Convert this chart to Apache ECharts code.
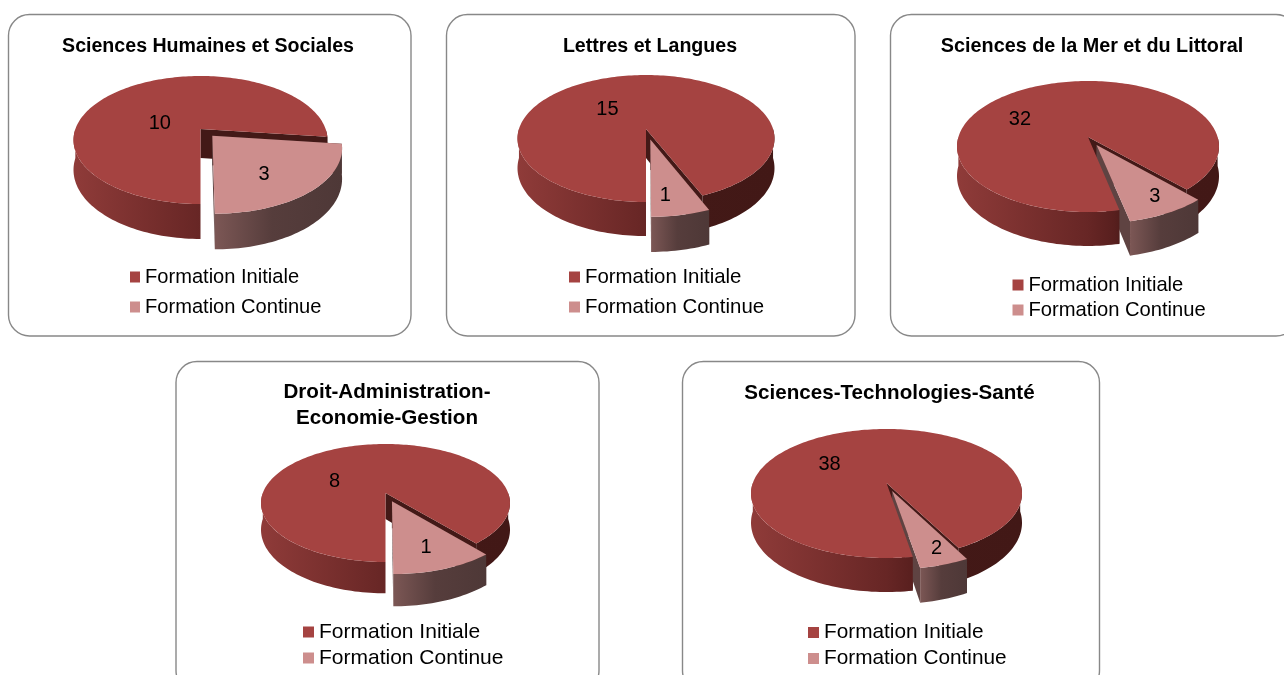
<!DOCTYPE html>
<html>
<head>
<meta charset="utf-8">
<style>html,body{margin:0;padding:0;background:#fff}#c{width:1284px;height:675px}</style>
<script src="https://cdn.jsdelivr.net/npm/echarts@6/dist/echarts.min.js"></script>
</head>
<body>
<div id="c"></div>
<script>
// ---- data ----
const categories = ['Sciences Humaines et Sociales', 'Lettres et Langues', 'Sciences de la Mer et du Littoral', 'Droit-Administration-\nEconomie-Gestion', 'Sciences-Technologies-Santé'];
const seriesNames = ['Formation Initiale', 'Formation Continue'];
const formationInitiale = [10, 15, 32, 8, 38];
const formationContinue = [3, 1, 3, 1, 2];

// ---- layout and style ----
const FONT = '"Liberation Sans", Arial, sans-serif';
const TOP_FI = '#a54341', TOP_FC = '#cd8e8d';
// pie scales: ellipse centre and radii, perspective a, thickness d, angle where the first slice starts, explosion e
const pieLayout = [
  {cx: 200.5, cy: 140, rx: 127, ry: 64, a: -0.17, d: 29, start: 180, e: 0.14},
  {cx: 646, cy: 138.5, rx: 128.5, ry: 63.5, a: -0.15, d: 29, start: 180, e: 0.17},
  {cx: 1088, cy: 146.5, rx: 131, ry: 65.5, a: -0.145, d: 29, start: 168, e: 0.14},
  {cx: 385.5, cy: 503, rx: 124.5, ry: 59, a: -0.17, d: 26, start: 180, e: 0.15},
  {cx: 886.5, cy: 493.5, rx: 135.5, ry: 64.5, a: -0.163, d: 28.5, start: 170.5, e: 0.13}
];
// value label anchors as fractions of each pie's radii: [initiale, continue]
const labelAnchors = [
  [[-0.32, -0.28], [0.50, 0.52]],
  [[-0.30, -0.465], [0.15, 0.875]],
  [[-0.52, -0.435], [0.51, 0.755]],
  [[-0.41, -0.39], [0.325, 0.73]],
  [[-0.42, -0.47], [0.37, 0.83]]
];
const panels = [
  {x: 8.5, y: 14.5, w: 402.5, h: 321.5},
  {x: 446.5, y: 14.5, w: 408.5, h: 321.5},
  {x: 890.5, y: 14.5, w: 406.5, h: 321.5},
  {x: 176, y: 361.5, w: 423, h: 330},
  {x: 682.5, y: 361.5, w: 417, h: 330}
];
const titleLayout = [
  {x: 208, y: 34, size: 19.6}, {x: 650, y: 34, size: 19.6}, {x: 1092, y: 34, size: 19.8},
  {x: 387, y: 380, size: 20.6}, {x: 889.5, y: 381, size: 20.6}
];
const legendLayout = [
  {x: 130, y: 267, gap: 10, size: 20.1, sw: 10},
  {x: 569, y: 267, gap: 10, size: 20.4, sw: 11},
  {x: 1012.5, y: 275, gap: 5, size: 20.2, sw: 11},
  {x: 303, y: 621.5, gap: 5, size: 21, sw: 11},
  {x: 808, y: 622, gap: 5, size: 20.8, sw: 11}
];

// ---- geometry: a circle seen in perspective ----
function project(p, theta, ox, oy) {
  const r = theta * Math.PI / 180;
  return projectUV(p, Math.sin(r) + ox, -Math.cos(r) + oy);
}
function projectUV(p, u, v) {
  const den = 1 + p.a * v;
  return {
    x: p.cx + p.rx * u * Math.sqrt(1 - p.a * p.a) / den,
    y: p.cy + p.ry * (v + p.a) / den,
    depth: p.d / den
  };
}
function arcPoints(p, from, to, ox, oy) {
  const n = Math.max(2, Math.ceil(Math.abs(to - from) / 1.5));
  const out = [];
  for (let i = 0; i <= n; i++) out.push(project(p, from + (to - from) * i / n, ox, oy));
  return out;
}
function wall(pts, fill) {
  const poly = pts.map(q => [q.x, q.y]).concat(pts.slice().reverse().map(q => [q.x, q.y + q.depth]));
  return {type: 'polygon', shape: {points: poly}, style: {fill: fill}, silent: true};
}
function face(a, b, fill) {
  return {type: 'polygon', shape: {points: [[a.x, a.y], [b.x, b.y], [b.x, b.y + b.depth], [a.x, a.y + a.depth]]}, style: {fill: fill}, silent: true};
}
function textEl(text, x, y) {
  return {type: 'text', silent: true, style: {text: String(text), x: x, y: y + 1, fill: '#000', fontSize: 20, fontFamily: FONT, align: 'center', verticalAlign: 'middle'}};
}
// exploded slice frame of the "continue" slice of pie i
function continueFrame(i) {
  const p = pieLayout[i];
  const total = formationInitiale[i] + formationContinue[i];
  const span = 360 * formationContinue[i] / total;
  const e = p.start, s = e - span;
  const mid = (s + e) / 2 * Math.PI / 180;
  const ox = p.e * Math.sin(mid), oy = -p.e * Math.cos(mid);
  return {s: s, e: e, ox: ox, oy: oy, apex: projectUV(p, ox, oy)};
}

function renderInitiale(i, api) {
  const value = api.value(0);
  const p = pieLayout[i];
  const total = formationInitiale[i] + formationContinue[i];
  const span = 360 * value / total;
  const s = p.start, e = s + span;
  const left = p.cx - p.rx, right = p.cx + p.rx;
  const grad = new echarts.graphic.LinearGradient(left, 0, right, 0, [
    {offset: 0, color: '#8f3b39'}, {offset: 0.5, color: '#672625'}, {offset: 0.6, color: '#581f1e'},
    {offset: 0.66, color: '#431917'}, {offset: 1, color: '#421816'}
  ], true);
  const apex = projectUV(p, 0, 0);
  const f = continueFrame(i);
  const children = [
    face(apex, project(p, e, 0, 0), '#431917'),
    face(apex, project(p, s, 0, 0), '#431917'),
    // radial sides of the pulled-out slice sit behind the body's rim and top
    face(f.apex, project(p, f.s, f.ox, f.oy), '#4a2e2c'),
    face(f.apex, project(p, f.e, f.ox, f.oy), '#5f4342'),
    wall(arcPoints(p, s, 270, 0, 0), grad),
    wall(arcPoints(p, 90, Math.max(90, e - 360), 0, 0), grad)
  ];
  const rim = arcPoints(p, s, e, 0, 0).map(q => [q.x, q.y]);
  rim.push([apex.x, apex.y]);
  children.push({type: 'polygon', shape: {points: rim}, style: {fill: TOP_FI}, silent: true});
  const a = labelAnchors[i][0];
  children.push(textEl(value, p.cx + a[0] * p.rx, p.cy + a[1] * p.ry));
  return {type: 'group', children: children};
}
function renderContinue(i, api) {
  const value = api.value(0);
  const p = pieLayout[i];
  const f = continueFrame(i);
  const grad = new echarts.graphic.LinearGradient(0, 0, 1, 0, [
    {offset: 0, color: '#7c5755'}, {offset: 0.45, color: '#563d3c'}, {offset: 1, color: '#4e3837'}
  ]);
  const children = [
    wall(arcPoints(p, Math.max(90, f.s), f.e, f.ox, f.oy), grad)
  ];
  const rim = arcPoints(p, f.s, f.e, f.ox, f.oy).map(q => [q.x, q.y]);
  rim.push([f.apex.x, f.apex.y]);
  children.push({type: 'polygon', shape: {points: rim}, style: {fill: TOP_FC}, silent: true});
  const a = labelAnchors[i][1];
  children.push(textEl(value, p.cx + a[0] * p.rx, p.cy + a[1] * p.ry));
  return {type: 'group', children: children};
}

// ---- option ----
const series = [];
categories.forEach((c, i) => {
  series.push({
    type: 'custom', name: seriesNames[0], coordinateSystem: 'none', silent: true,
    itemStyle: {color: TOP_FI}, data: [[formationInitiale[i]]],
    renderItem: (params, api) => renderInitiale(i, api)
  });
  series.push({
    type: 'custom', name: seriesNames[1], coordinateSystem: 'none', silent: true,
    itemStyle: {color: TOP_FC}, data: [[formationContinue[i]]],
    renderItem: (params, api) => renderContinue(i, api)
  });
});

const chart = echarts.init(document.getElementById('c'), null, {renderer: 'canvas'});
chart.setOption({
  animation: false,
  backgroundColor: '#fff',
  title: categories.map((c, i) => ({
    text: c, left: titleLayout[i].x, top: titleLayout[i].y, textAlign: 'center', padding: 0,
    textStyle: {fontFamily: FONT, fontWeight: 'bold', fontSize: titleLayout[i].size, lineHeight: 25.5, color: '#000'}
  })),
  legend: legendLayout.map(l => ({
    data: seriesNames, orient: 'vertical', left: l.x, top: l.y, padding: 0,
    itemWidth: l.sw, itemHeight: 11, itemGap: l.gap, icon: 'rect', selectedMode: false,
    textStyle: {fontFamily: FONT, fontSize: l.size, color: '#000'}
  })),
  graphic: panels.map(b => ({
    type: 'rect', z: -1, silent: true,
    shape: {x: b.x, y: b.y, width: b.w, height: b.h, r: 21},
    style: {fill: '#fff', stroke: '#888888', lineWidth: 1.4}
  })),
  series: series
});
</script>
</body>
</html>
